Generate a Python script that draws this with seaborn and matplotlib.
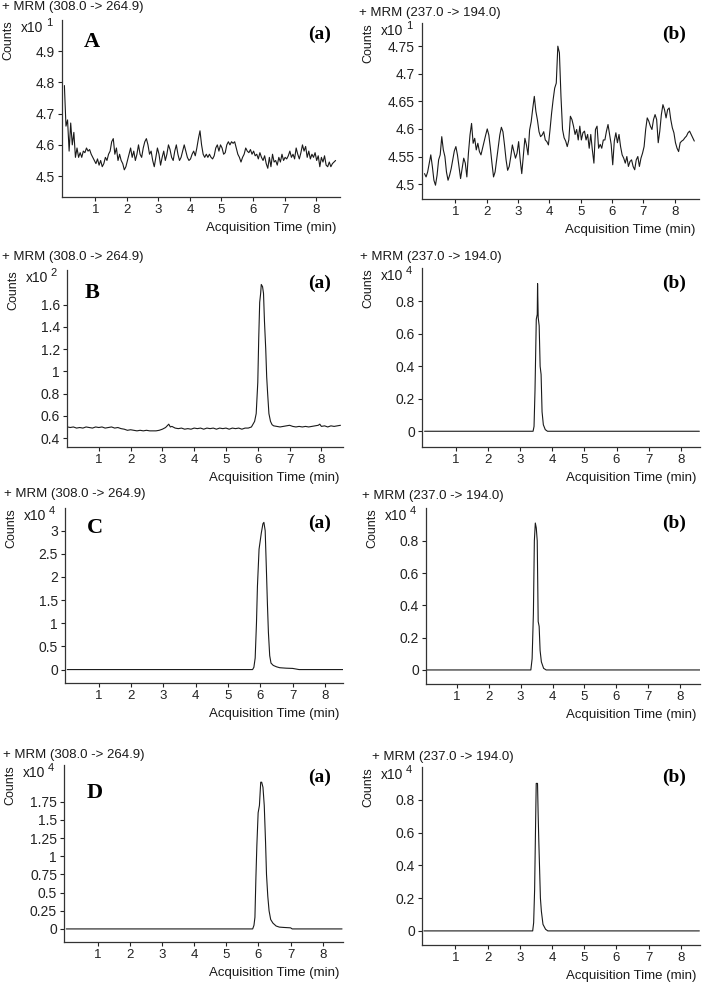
import numpy as np
import matplotlib
matplotlib.use('Agg')
import matplotlib.pyplot as plt
import seaborn as sns
from matplotlib.ticker import FuncFormatter

sns.set_theme(style='ticks')
plt.rcParams['font.family'] = ['Liberation Sans', 'DejaVu Sans']

# --- data ----------------------------------------------------------------
# Row A: blank plasma, noisy baselines (counts x10^1), sampled every 0.05 min from 0.02 min
COUNTS_AA = [4.79, 4.66, 4.68, 4.58, 4.67, 4.60, 4.64, 4.56, 4.59, 4.56,
             4.575, 4.56, 4.58, 4.575, 4.59, 4.58, 4.585, 4.57, 4.56, 4.55,
             4.54, 4.555, 4.535, 4.55, 4.53, 4.54, 4.56, 4.55, 4.57, 4.58,
             4.61, 4.62, 4.57, 4.59, 4.55, 4.57, 4.55, 4.54, 4.52, 4.53,
             4.55, 4.57, 4.59, 4.56, 4.58, 4.55, 4.57, 4.60, 4.57, 4.56,
             4.59, 4.61, 4.62, 4.60, 4.57, 4.58, 4.55, 4.53, 4.56, 4.59,
             4.57, 4.535, 4.56, 4.58, 4.55, 4.57, 4.60, 4.585, 4.56, 4.55,
             4.58, 4.60, 4.57, 4.55, 4.56, 4.58, 4.60, 4.58, 4.56, 4.55,
             4.555, 4.57, 4.58, 4.565, 4.59, 4.62, 4.645, 4.60, 4.57, 4.56,
             4.57, 4.56, 4.57, 4.56, 4.555, 4.565, 4.59, 4.60, 4.58, 4.60,
             4.59, 4.57, 4.575, 4.60, 4.61, 4.60, 4.61, 4.605, 4.61, 4.59,
             4.57, 4.56, 4.545, 4.56, 4.57, 4.59, 4.58, 4.575, 4.585, 4.57,
             4.58, 4.565, 4.57, 4.555, 4.575, 4.56, 4.55, 4.565, 4.54, 4.525,
             4.56, 4.53, 4.57, 4.545, 4.55, 4.535, 4.56, 4.545, 4.57, 4.55,
             4.56, 4.555, 4.565, 4.58, 4.56, 4.57, 4.555, 4.59, 4.57, 4.555,
             4.575, 4.60, 4.58, 4.595, 4.56, 4.58, 4.555, 4.57, 4.56, 4.575,
             4.55, 4.565, 4.53, 4.56, 4.545, 4.565, 4.535, 4.53, 4.545, 4.53,
             4.54, 4.545, 4.55]
COUNTS_AB = [4.519, 4.513, 4.522, 4.538, 4.553, 4.532, 4.507, 4.498, 4.516, 4.544,
             4.553, 4.586, 4.562, 4.55, 4.522, 4.507, 4.516, 4.528, 4.544, 4.56,
             4.568, 4.553, 4.532, 4.51, 4.528, 4.547, 4.538, 4.513, 4.556, 4.589,
             4.61, 4.574, 4.583, 4.562, 4.574, 4.559, 4.553, 4.565, 4.577, 4.589,
             4.60, 4.589, 4.565, 4.538, 4.513, 4.522, 4.544, 4.565, 4.589, 4.603,
             4.595, 4.571, 4.544, 4.525, 4.532, 4.55, 4.571, 4.559, 4.547, 4.556,
             4.577, 4.544, 4.519, 4.55, 4.583, 4.571, 4.553, 4.598, 4.613, 4.637,
             4.659, 4.632, 4.616, 4.595, 4.586, 4.589, 4.595, 4.58, 4.577, 4.571,
             4.598, 4.628, 4.653, 4.674, 4.683, 4.75, 4.738, 4.659, 4.599, 4.584,
             4.578, 4.568, 4.58, 4.623, 4.617, 4.605, 4.59, 4.599, 4.58, 4.605,
             4.58, 4.593, 4.596, 4.58, 4.59, 4.565, 4.59, 4.562, 4.538, 4.599,
             4.605, 4.565, 4.572, 4.565, 4.58, 4.58, 4.596, 4.608, 4.59, 4.572,
             4.535, 4.578, 4.593, 4.575, 4.59, 4.568, 4.553, 4.547, 4.538, 4.55,
             4.532, 4.541, 4.544, 4.532, 4.526, 4.544, 4.55, 4.532, 4.547, 4.556,
             4.568, 4.599, 4.62, 4.614, 4.605, 4.599, 4.617, 4.626, 4.617, 4.575,
             4.596, 4.626, 4.644, 4.635, 4.62, 4.635, 4.638, 4.617, 4.602, 4.593,
             4.575, 4.565, 4.559, 4.575, 4.578, 4.58, 4.584, 4.587, 4.593, 4.596,
             4.59, 4.584, 4.578]
T_AA = 0.02 + 0.05 * np.arange(len(COUNTS_AA))
T_AB = 0.02 + 0.05 * np.arange(len(COUNTS_AB))

# Row B (a): counts x10^2
T_BA = [0.02, 0.1, 0.2, 0.3, 0.4, 0.5, 0.6, 0.7, 0.8, 0.9, 1.0, 1.1, 1.2, 1.3,
        1.4, 1.5, 1.6, 1.7, 1.8, 1.9, 2.0, 2.1, 2.2, 2.3, 2.4, 2.5, 2.6, 2.7,
        2.8, 2.9, 3.0, 3.1, 3.2, 3.25, 3.3, 3.4, 3.5, 3.6, 3.7, 3.8, 3.9, 4.0,
        4.1, 4.2, 4.3, 4.4, 4.5, 4.6, 4.7, 4.8, 4.9, 5.0, 5.1, 5.2, 5.3, 5.4,
        5.5, 5.6, 5.7, 5.8, 5.9, 5.95, 6.0, 6.03, 6.06, 6.09, 6.11, 6.15, 6.18,
        6.21, 6.25, 6.28, 6.31, 6.35, 6.4, 6.45, 6.5, 6.6, 6.7, 6.8, 6.9, 7.0,
        7.1, 7.2, 7.3, 7.4, 7.5, 7.6, 7.7, 7.8, 7.9, 7.95, 8.0, 8.1, 8.2, 8.3,
        8.4, 8.5, 8.6]
COUNTS_BA = [0.50, 0.495, 0.50, 0.49, 0.495, 0.49, 0.50, 0.495, 0.49, 0.50,
             0.495, 0.50, 0.49, 0.495, 0.50, 0.49, 0.495, 0.485, 0.48, 0.47,
             0.475, 0.47, 0.465, 0.47, 0.465, 0.47, 0.465, 0.465, 0.465, 0.47,
             0.48, 0.495, 0.525, 0.50, 0.505, 0.49, 0.485, 0.49, 0.48, 0.485,
             0.48, 0.49, 0.485, 0.49, 0.48, 0.49, 0.485, 0.49, 0.48, 0.49,
             0.485, 0.49, 0.48, 0.49, 0.485, 0.49, 0.48, 0.49, 0.49, 0.50,
             0.55, 0.62, 0.90, 1.30, 1.62, 1.70, 1.78, 1.76, 1.70, 1.45,
             1.20, 0.95, 0.80, 0.62, 0.55, 0.52, 0.51, 0.505, 0.50, 0.505,
             0.51, 0.515, 0.505, 0.50, 0.505, 0.50, 0.505, 0.50, 0.505, 0.51,
             0.515, 0.525, 0.505, 0.51, 0.50, 0.51, 0.505, 0.51, 0.515]

# Row B (b): counts x10^4
T_BB = [0.02, 3.40, 3.43, 3.46, 3.50, 3.53, 3.54, 3.56, 3.59, 3.62, 3.65, 3.68,
        3.72, 3.78, 3.85, 8.58]
COUNTS_BB = [0.0, 0.0, 0.03, 0.25, 0.69, 0.72, 0.91, 0.70, 0.65, 0.40, 0.35, 0.12,
             0.04, 0.01, 0.0, 0.0]

# Row C: counts x10^4
T_CA = [0.02, 5.76, 5.80, 5.84, 5.88, 5.91, 5.96, 6.03, 6.08, 6.11, 6.15, 6.19,
        6.22, 6.25, 6.29, 6.33, 6.4, 6.5, 6.6, 6.8, 7.0, 7.2, 8.56]
COUNTS_CA = [0.0, 0.0, 0.05, 0.25, 1.0, 1.8, 2.6, 2.95, 3.15, 3.18, 3.0, 2.1,
             1.4, 0.8, 0.3, 0.14, 0.09, 0.06, 0.04, 0.03, 0.025, 0.0, 0.0]
T_CB = [0.04, 3.32, 3.36, 3.40, 3.43, 3.46, 3.49, 3.52, 3.55, 3.58, 3.61, 3.65,
        3.72, 3.80, 8.62]
COUNTS_CB = [0.0, 0.0, 0.07, 0.35, 0.80, 0.91, 0.88, 0.80, 0.30, 0.27, 0.12, 0.05,
             0.01, 0.0, 0.0]

# Row D: counts x10^4
T_DA = [0.02, 5.82, 5.86, 5.89, 5.92, 5.95, 5.99, 6.03, 6.07, 6.10, 6.14, 6.18,
        6.22, 6.25, 6.29, 6.33, 6.38, 6.45, 6.55, 6.65, 6.8, 7.0, 7.05, 8.6]
COUNTS_DA = [0.0, 0.0, 0.05, 0.16, 0.7, 1.15, 1.6, 1.7, 2.02, 2.02, 1.95, 1.7,
             1.2, 0.75, 0.45, 0.25, 0.13, 0.08, 0.04, 0.025, 0.02, 0.015, 0.0, 0.0]
T_DB = [0.02, 3.40, 3.43, 3.46, 3.49, 3.51, 3.55, 3.57, 3.59, 3.61, 3.64, 3.67,
        3.72, 3.80, 3.87, 8.58]
COUNTS_DB = [0.0, 0.0, 0.05, 0.25, 0.65, 0.90, 0.90, 0.71, 0.55, 0.41, 0.20, 0.12,
             0.04, 0.01, 0.0, 0.0]

TITLE_A = '+ MRM (308.0 -> 264.9)'
TITLE_B = '+ MRM (237.0 -> 194.0)'
ROW_LETTERS = ['A', 'B', 'C', 'D']
X_TICKS = [1, 2, 3, 4, 5, 6, 7, 8]

# --- layout (pixels in a 704 x 984 image) ---------------------------------
W, H = 704, 984
panels = [
    # row, col, x, y, exponent, box (l, t, r, b), xlim, ylim, yticks
    dict(t=T_AA, y=COUNTS_AA, exp='1', box=(62, 20, 340, 197), xlim=(-0.056, 8.76),
         ylim=(4.433, 5.0), yticks=[4.5, 4.6, 4.7, 4.8, 4.9], title=TITLE_A, tx=2, ty=7, tag='(a)'),
    dict(t=T_AB, y=COUNTS_AB, exp='1', box=(422, 23, 699, 199), xlim=(-0.06, 8.77),
         ylim=(4.473, 4.792), yticks=[4.5, 4.55, 4.6, 4.65, 4.7, 4.75], title=TITLE_B, tx=359, ty=13, tag='(b)'),
    dict(t=T_BA, y=COUNTS_BA, exp='2', box=(67, 270, 343, 447), xlim=(0.0, 8.68),
         ylim=(0.32, 1.91), yticks=[0.4, 0.6, 0.8, 1, 1.2, 1.4, 1.6], title=TITLE_A, tx=2, ty=257, tag='(a)'),
    dict(t=T_BB, y=COUNTS_BB, exp='4', box=(422, 268, 700, 447), xlim=(-0.06, 8.6),
         ylim=(-0.097, 1.006), yticks=[0, 0.2, 0.4, 0.6, 0.8], title=TITLE_B, tx=360, ty=257, tag='(b)'),
    dict(t=T_CA, y=COUNTS_CA, exp='4', box=(65, 508, 343, 683), xlim=(-0.05, 8.56),
         ylim=(-0.29, 3.49), yticks=[0, 0.5, 1, 1.5, 2, 2.5, 3], title=TITLE_A, tx=4, ty=494, tag='(a)'),
    dict(t=T_CB, y=COUNTS_CB, exp='4', box=(426, 508, 700, 684), xlim=(0.035, 8.62),
         ylim=(-0.087, 1.003), yticks=[0, 0.2, 0.4, 0.6, 0.8], title=TITLE_B, tx=362, ty=496, tag='(b)'),
    dict(t=T_DA, y=COUNTS_DA, exp='4', box=(64, 765, 343, 942), xlim=(-0.05, 8.63),
         ylim=(-0.18, 2.257), yticks=[0, 0.25, 0.5, 0.75, 1, 1.25, 1.5, 1.75], title=TITLE_A, tx=3, ty=755, tag='(a)'),
    dict(t=T_DB, y=COUNTS_DB, exp='4', box=(422, 767, 700, 945), xlim=(-0.04, 8.6),
         ylim=(-0.086, 1.0), yticks=[0, 0.2, 0.4, 0.6, 0.8], title=TITLE_B, tx=372, ty=757, tag='(b)'),
]
letter_pos = [(92, 42), (92, 293), (95, 528), (95, 793)]
tag_y = [34, 283, 523, 777]

ink = '#1a1a1a'
fig = plt.figure(figsize=(W / 100, H / 100), dpi=100)
fig.patch.set_facecolor('white')


def fx(px):
    return px / W


def fy(py):
    return 1 - py / H


for i, p in enumerate(panels):
    l, t, r, b = p['box']
    ax = fig.add_axes([fx(l), fy(b), (r - l) / W, (b - t) / H])
    sns.lineplot(x=p['t'], y=p['y'], ax=ax, color=ink, linewidth=0.8, sort=False)
    ax.set_xlim(*p['xlim'])
    ax.set_ylim(*p['ylim'])
    ax.set_xticks(X_TICKS)
    ax.set_yticks(p['yticks'])
    ax.yaxis.set_major_formatter(FuncFormatter(lambda v, _: f'{v:g}'))
    ax.set_xlabel('')
    ax.set_ylabel('')
    for side in ['top', 'right']:
        ax.spines[side].set_visible(False)
    for side in ['left', 'bottom']:
        ax.spines[side].set_color('#333333')
        ax.spines[side].set_linewidth(0.9)
    ax.tick_params(axis='y', length=3, width=0.8, pad=2, labelsize=10, colors='#222222')
    ax.tick_params(axis='x', length=3, width=0.8, pad=2, labelsize=9.5, colors='#222222')
    ax.set_facecolor('white')

    # header, axis texts
    fig.text(fx(p['tx']), fy(p['ty']), p['title'], fontsize=9.5, color=ink, ha='left', va='center')
    fig.text(fx(l - 54), fy(t + 20), 'Counts', fontsize=9, color=ink, rotation=90,
             ha='center', va='center')
    fig.text(fx(l - 19), fy(t + 8), 'x10', fontsize=10, color=ink, ha='right', va='center')
    fig.text(fx(l - 13), fy(t + 3), p['exp'], fontsize=8, color=ink, ha='center', va='center')
    fig.text(fx(r - 4), fy(b + 31), 'Acquisition Time (min)', fontsize=9.5, color=ink,
             ha='right', va='center')

    row = i // 2
    tag_x = 320 if i % 2 == 0 else 674
    fig.text(fx(tag_x), fy(tag_y[row]), p['tag'], fontsize=14, fontweight='bold',
             family='Liberation Serif', color='black', ha='center', va='center')
    if i % 2 == 0:
        lx, ly = letter_pos[row]
        fig.text(fx(lx), fy(ly), ROW_LETTERS[row], fontsize=16, fontweight='bold',
                 family='Liberation Serif', color='black', ha='center', va='center')

fig.savefig('out.png', dpi=100, facecolor='white')
